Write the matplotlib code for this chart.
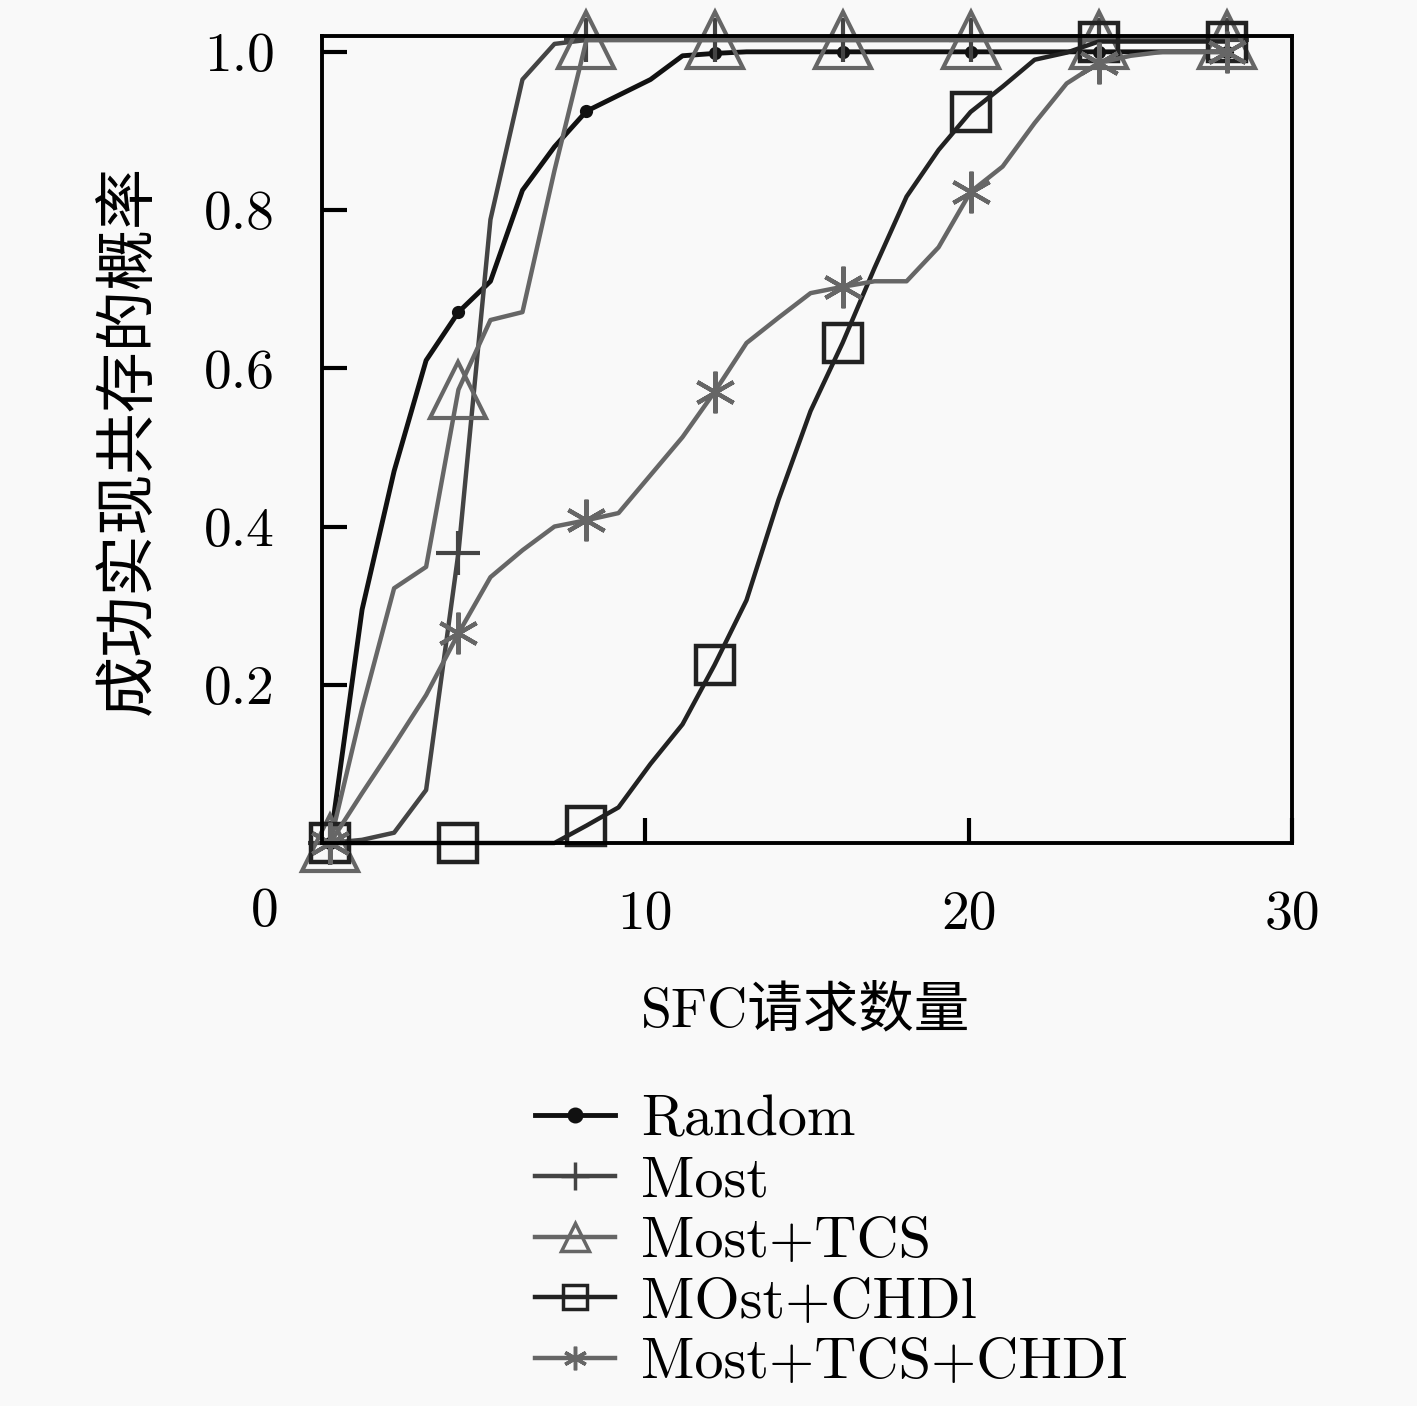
import matplotlib
matplotlib.use('Agg')
import matplotlib.pyplot as plt

# 字体设置：英文/数字用 cmr10，中文回退到 Noto Sans CJK SC
plt.rcParams['font.family'] = ['cmr10', 'Noto Sans CJK SC']
plt.rcParams['axes.formatter.use_mathtext'] = True
plt.rcParams['mathtext.fontset'] = 'cm'

# 横坐标（SFC请求数量），每点间隔约 1
X = [0.25, 1.24, 2.23, 3.22, 4.22, 5.21, 6.2, 7.19, 8.18, 9.17,
     10.16, 11.15, 12.14, 13.13, 14.12, 15.11, 16.1, 17.09, 18.08, 19.07,
     20.06, 21.05, 22.04, 23.03, 24.02, 25.01, 26.0, 26.99, 27.98]

random_y = [0.0, 0.295, 0.47, 0.61, 0.671, 0.71, 0.825, 0.88, 0.925, 0.945,
            0.965, 0.995, 0.998, 1.0, 1.0, 1.0, 1.0, 1.0, 1.0, 1.0,
            1.0, 1.0, 1.0, 1.0, 1.0, 1.0, 1.0, 1.0, 1.0]

most_y = [0.0, 0.004, 0.013, 0.067, 0.367, 0.788, 0.965, 1.01, 1.015, 1.015,
          1.015, 1.015, 1.015, 1.015, 1.015, 1.015, 1.015, 1.015, 1.015, 1.015,
          1.015, 1.015, 1.015, 1.015, 1.015, 1.015, 1.015, 1.015, 1.015]

most_tcs_y = [0.0, 0.17, 0.322, 0.349, 0.573, 0.661, 0.671, 0.85, 1.015, 1.015,
              1.015, 1.015, 1.015, 1.015, 1.015, 1.015, 1.015, 1.015, 1.015, 1.015,
              1.015, 1.015, 1.015, 1.015, 1.015, 1.015, 1.015, 1.015, 1.015]

most_chdl_y = [0.0, 0.0, 0.0, 0.0, 0.0, 0.0, 0.0, 0.0, 0.022, 0.045,
               0.1, 0.15, 0.225, 0.307, 0.434, 0.546, 0.632, 0.727, 0.817, 0.876,
               0.924, 0.956, 0.99, 0.999, 1.013, 1.013, 1.013, 1.013, 1.013]

most_tcs_chdi_y = [0.0, 0.063, 0.124, 0.187, 0.265, 0.336, 0.37, 0.40, 0.408, 0.417,
                   0.465, 0.513, 0.57, 0.632, 0.664, 0.695, 0.703, 0.71, 0.71, 0.753,
                   0.823, 0.855, 0.91, 0.96, 0.986, 0.995, 1.0, 1.0, 1.0]

labels = ['Random', 'Most', 'Most+TCS', 'MOst+CHDl', 'Most+TCS+CHDI']
series = [random_y, most_y, most_tcs_y, most_chdl_y, most_tcs_chdi_y]

BG = '#f9f9f9'

fig = plt.figure(figsize=(14.17, 14.06), dpi=100, facecolor=BG)
ax = fig.add_axes([322 / 1417, 1 - 843 / 1406, 970 / 1417, 807 / 1406])
ax.set_facecolor(BG)

styles = [
    dict(color='#111111', lw=3.5, marker='o', ms=8, mfc='#111111', mec='#111111', mew=1.5),
    dict(color='#444444', lw=3.2, marker='+', ms=32, mec='#444444', mew=3),
    dict(color='#666666', lw=3.2, marker='^', ms=40, mfc='none', mec='#666666', mew=3),
    dict(color='#222222', lw=3.2, marker='s', ms=27, mfc='none', mec='#222222', mew=3.2),
    dict(color='#666666', lw=3.2, marker=(6, 2, 0), ms=30, mec='#666666', mew=3),
]

for y, lab, st in zip(series, labels, styles):
    ax.plot(X, y, label=lab, markevery=4, clip_on=False, **st)

ax.set_xlim(0, 30)
ax.set_ylim(0, 1.02)
ax.set_xticks([10, 20, 30])
ax.set_xticklabels(['10', '20', '30'])
ax.set_yticks([0.2, 0.4, 0.6, 0.8, 1.0])
ax.set_yticklabels(['0.2', '0.4', '0.6', '0.8', '1.0'])
ax.tick_params(direction='in', length=18, width=3, labelsize=40)
ax.tick_params(axis='x', pad=34)
ax.tick_params(axis='y', pad=34)
for sp in ax.spines.values():
    sp.set_linewidth(2.8)

# 角落的 "0"
fig.text(265 / 1417, 1 - 912 / 1406, '0', ha='center', va='center', fontsize=40)

# 坐标轴标题
fig.text(805 / 1417, 1 - 1012 / 1406, 'SFC请求数量', ha='center', va='center', fontsize=40)
fig.text(130 / 1417, 1 - 440 / 1406, '成功实现共存的概率', ha='center', va='center',
         rotation=90, fontsize=44)

leg = fig.legend(loc='upper left', bbox_to_anchor=(535 / 1417, 1 - 1095 / 1406),
                 frameon=False, fontsize=42, handlelength=1.37, handletextpad=0.45,
                 labelspacing=0.15, borderpad=0, borderaxespad=0)
# 图例中的标记比曲线上的小
for h, ms in zip(leg.legend_handles, [9, 20, 20, 17, 17]):
    h.set_markersize(ms)
    h.set_markeredgewidth(2.5)

fig.savefig('out.png', dpi=100, facecolor=BG)
